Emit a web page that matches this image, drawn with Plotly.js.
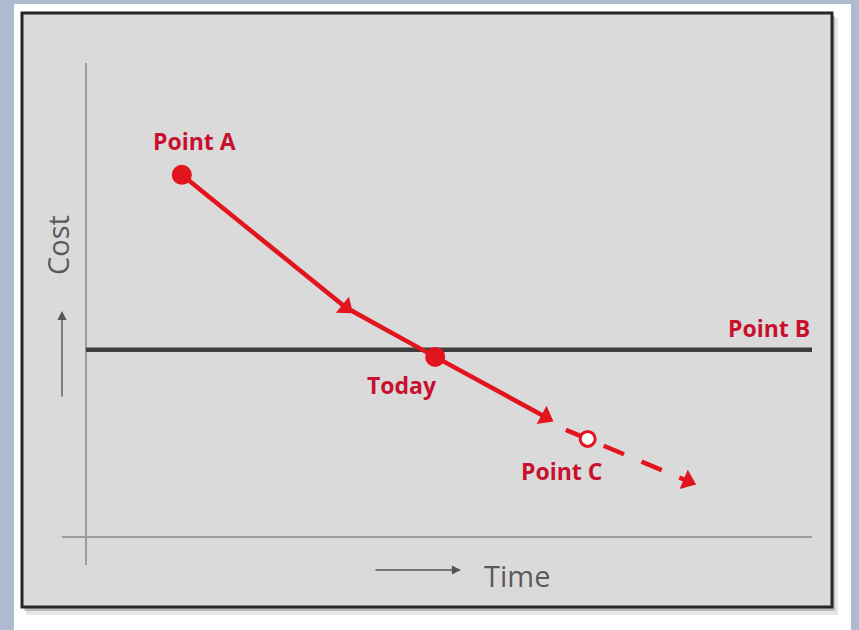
<!DOCTYPE html>
<html>
<head>
<meta charset="utf-8">
<script src="https://cdn.plot.ly/plotly-3.0.1.min.js"></script>
<style>html,body{margin:0;padding:0;background:#adbad0;}#chart{width:859px;height:630px;}</style>
</head>
<body>
<div id="chart"></div>
<script>
// ---- data ----
const pointNames = ['Point A', 'Today', 'Point C'];
const pointTime  = [1.32, 4.81, 6.91];
const pointCost  = [7.64, 3.80, 2.07];
// solid path actually travelled (A -> bend -> Today -> arrow)
const pathTime = [1.32, 3.58, 4.81, 6.33];
const pathCost = [7.64, 4.84, 3.80, 2.53];
// dashed projection through Point C
const projTime = [6.61, 6.91, 8.29];
const projCost = [2.26, 2.07, 1.18];
// Point B level
const pointBName = 'Point B';
const pointBTime = [0, 10];
const pointBCost = [3.95, 3.95];
const timeRange = [0, 10];
const costRange = [0, 10];
const axisTitles = ['Time', 'Cost'];

// ---- layout geometry ----
const W = 859, H = 630;
const M = {l: 86, r: 47, t: 63, b: 93};
const PW = W - M.l - M.r, PH = H - M.t - M.b;
const px = v => (v - M.l) / PW;          // pixel x -> paper x
const py = v => (H - M.b - v) / PH;      // pixel y -> paper y

const RED = '#e2141e';
const LABEL_RED = '#c8102e';
const GREY_TXT = '#5a5a5a';

const arrowMarker = {symbol: 'triangle-up', angleref: 'previous', size: [0, 18], color: RED, opacity: 1, line: {width: 0}};
const traces = [
  {x: pointBTime, y: pointBCost, mode: 'lines', line: {color: '#3d3d3d', width: 4.5}, hoverinfo: 'skip'},
  {x: pathTime, y: pathCost, mode: 'lines', line: {color: RED, width: 4.5}, hoverinfo: 'skip'},
  {x: projTime, y: projCost, mode: 'lines', line: {color: RED, width: 4.5, dash: '22px,19px'}, hoverinfo: 'skip'},
  // arrowheads oriented along the path
  {x: pathTime.slice(0, 2), y: pathCost.slice(0, 2), mode: 'markers', marker: arrowMarker, hoverinfo: 'skip'},
  {x: pathTime.slice(2, 4), y: pathCost.slice(2, 4), mode: 'markers', marker: arrowMarker, hoverinfo: 'skip'},
  {x: projTime.slice(1, 3), y: projCost.slice(1, 3), mode: 'markers', marker: arrowMarker, hoverinfo: 'skip'},
  // points
  {x: pointTime.slice(0, 2), y: pointCost.slice(0, 2), mode: 'markers',
   marker: {symbol: 'circle', size: 20, color: RED, opacity: 1, line: {width: 0}}, hoverinfo: 'skip'},
  {x: pointTime.slice(2), y: pointCost.slice(2), mode: 'markers',
   marker: {symbol: 'circle', size: 15, color: '#ffffff', opacity: 1, line: {color: RED, width: 3}}, hoverinfo: 'skip'}
];

const labelFont = {family: 'Open Sans, sans-serif', size: 23, color: LABEL_RED, weight: 700};
const labelShift = [[13, 34], [-33, -28], [-26, -32]];
const annotations = pointNames.map((n, i) => ({
  x: pointTime[i], y: pointCost[i], xref: 'x', yref: 'y', text: n, showarrow: false,
  xanchor: 'center', yanchor: 'middle',
  xshift: labelShift[i][0], yshift: labelShift[i][1], font: labelFont
}));
annotations.push({x: pointBTime[1], y: pointBCost[1], xref: 'x', yref: 'y', text: pointBName,
  showarrow: false, xanchor: 'right', yanchor: 'middle', xshift: 0, yshift: 22, font: labelFont});
// axis titles
annotations.push({x: px(517), y: py(575), xref: 'paper', yref: 'paper', text: axisTitles[0], showarrow: false,
  xanchor: 'center', yanchor: 'middle',
  font: {family: 'Open Sans, sans-serif', size: 29, color: GREY_TXT}});
annotations.push({x: px(57), y: py(245), xref: 'paper', yref: 'paper', text: axisTitles[1], showarrow: false,
  xanchor: 'center', yanchor: 'middle',
  textangle: -90, font: {family: 'Open Sans, sans-serif', size: 29, color: GREY_TXT}});
// small direction arrows
annotations.push({x: px(461), y: py(570), xref: 'paper', yref: 'paper', text: '', showarrow: true,
  ax: -87, ay: 0, arrowhead: 2, arrowsize: 1.3, arrowwidth: 1.4, arrowcolor: '#555'});
annotations.push({x: px(62), y: py(311), xref: 'paper', yref: 'paper', text: '', showarrow: true,
  ax: 0, ay: 87, arrowhead: 2, arrowsize: 1.3, arrowwidth: 1.4, arrowcolor: '#555'});

const shapes = [
  // white frame
  {type: 'rect', xref: 'paper', yref: 'paper', x0: px(14), x1: px(851), y0: py(640), y1: py(4),
   fillcolor: '#ffffff', line: {width: 0}, layer: 'below'},
  // soft shadow
  {type: 'rect', xref: 'paper', yref: 'paper', x0: px(26), x1: px(838), y0: py(615), y1: py(18),
   fillcolor: 'rgba(0,0,0,0.10)', line: {width: 0}, layer: 'below'},
  {type: 'rect', xref: 'paper', yref: 'paper', x0: px(24), x1: px(835), y0: py(611), y1: py(16),
   fillcolor: 'rgba(0,0,0,0.18)', line: {width: 0}, layer: 'below'},
  // grey panel
  {type: 'rect', xref: 'paper', yref: 'paper', x0: px(22), x1: px(832), y0: py(607), y1: py(13),
   fillcolor: '#dadada', line: {color: '#262626', width: 3}, layer: 'below'},
  // axis lines
  {type: 'line', xref: 'paper', yref: 'paper', x0: 0, x1: 0, y0: py(565), y1: py(63),
   line: {color: '#9c9c9c', width: 2}, layer: 'below'},
  {type: 'line', xref: 'paper', yref: 'paper', x0: px(62), x1: px(812), y0: 0, y1: 0,
   line: {color: '#9c9c9c', width: 2}, layer: 'below'}
];

const layout = {
  width: W, height: H, margin: M,
  paper_bgcolor: '#adbad0', plot_bgcolor: 'rgba(0,0,0,0)',
  showlegend: false,
  xaxis: {range: timeRange, visible: false, fixedrange: true},
  yaxis: {range: costRange, visible: false, fixedrange: true},
  shapes: shapes, annotations: annotations
};

Plotly.newPlot('chart', traces, layout, {staticPlot: true, displayModeBar: false});
</script>
</body>
</html>
